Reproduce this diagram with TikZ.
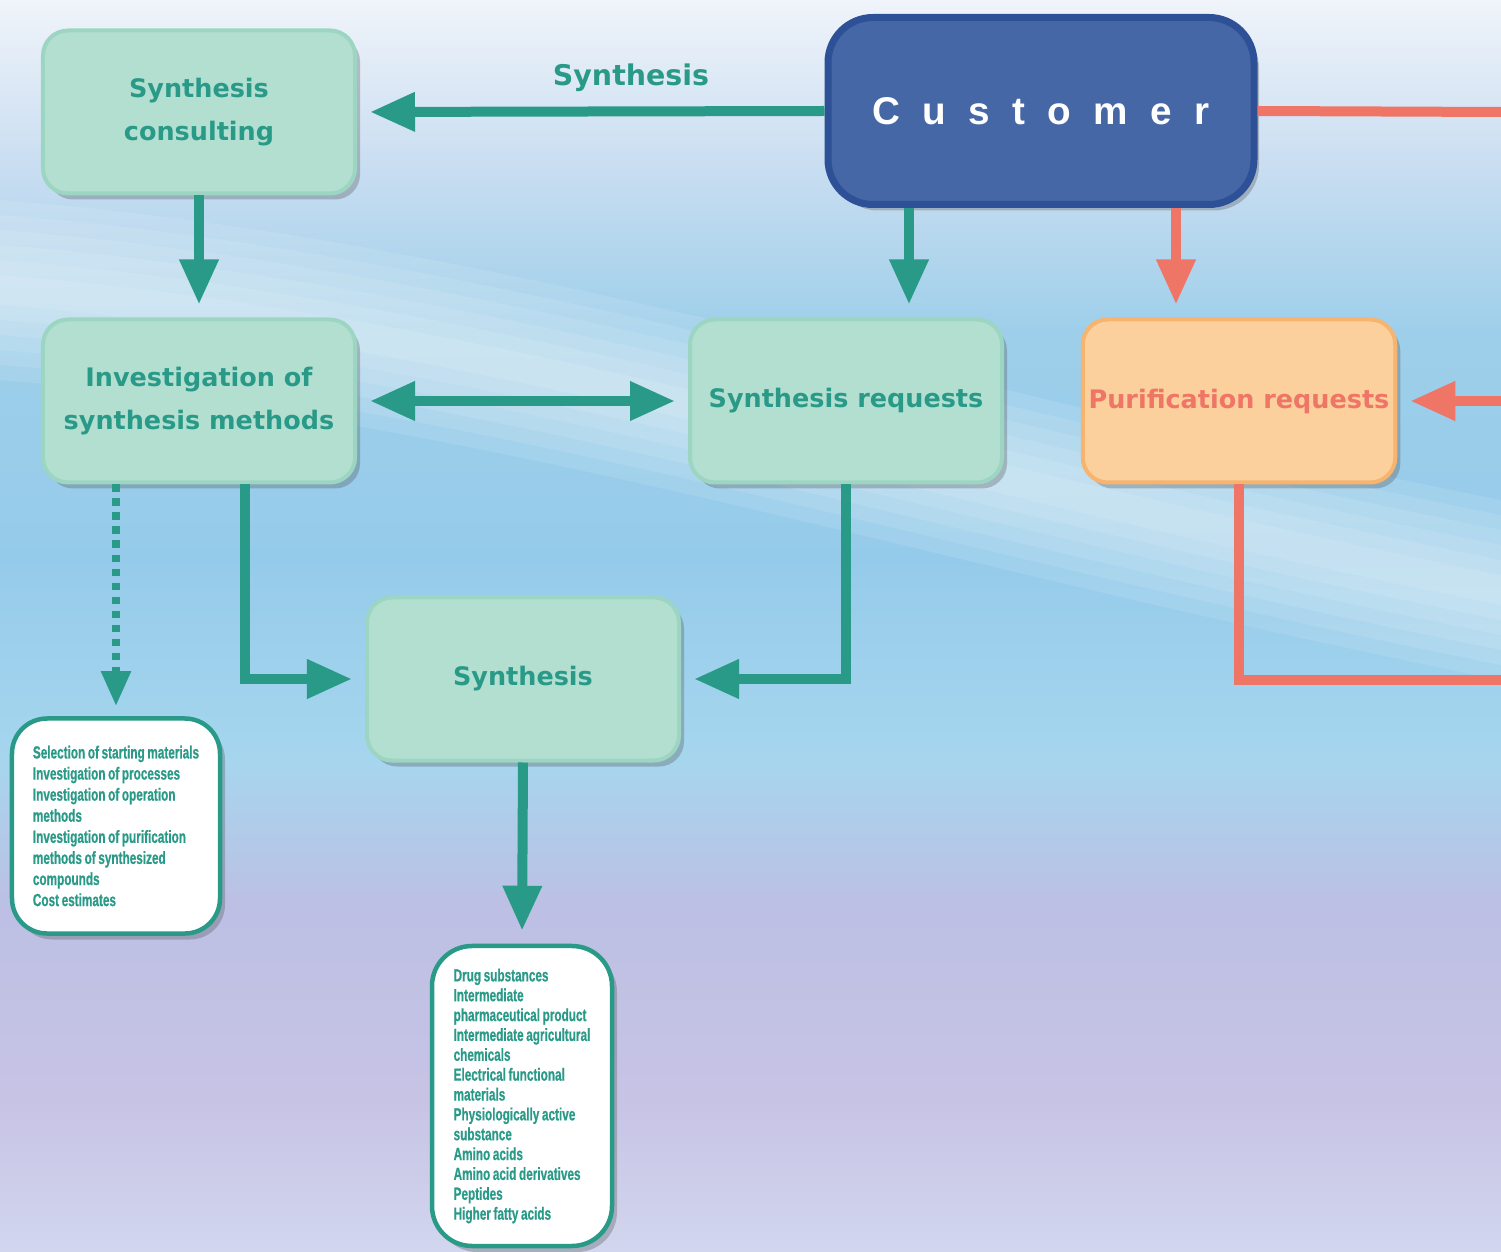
\documentclass[tikz,border=0pt]{standalone}
\usepackage{fontspec}
\setmainfont{DejaVu Sans}
\newfontfamily\narrowfont{Liberation Sans Bold}[FakeStretch=0.67, WordSpace=0.8, FakeBold=0.6]
\newfontfamily\custfont{Liberation Sans}[LetterSpace=58]
\usetikzlibrary{arrows.meta,shadows}

\definecolor{flowgreen}{HTML}{2A9A88}
\definecolor{boxgreen}{HTML}{B3DFD1}
\definecolor{boxedge}{HTML}{9CD6C2}
\definecolor{custblue}{HTML}{4567A5}
\definecolor{custedge}{HTML}{2E5096}
\definecolor{orangeline}{HTML}{EF7566}
\definecolor{orangefill}{HTML}{FCD09C}
\definecolor{orangeedge}{HTML}{F6B46E}
\definecolor{bga}{HTML}{F0F4FA}
\definecolor{bgb}{HTML}{C8DDF1}
\definecolor{bgc}{HTML}{9ECFEA}
\definecolor{bgd}{HTML}{95CBEA}
\definecolor{bge}{HTML}{A6D6EE}
\definecolor{bgf}{HTML}{BCC0E4}
\definecolor{bgg}{HTML}{C7C3E5}
\definecolor{bgh}{HTML}{D2D6EE}

\tikzset{
  boxshadow/.style={drop shadow={shadow xshift=1mm, shadow yshift=-1.2mm, opacity=.3, fill=black!70}},
  greenbox/.style={rounded corners=5mm, fill=boxgreen, draw=boxedge, line width=0.8mm,
    minimum width=62.4mm, minimum height=32.6mm, align=center, text=flowgreen,
    font=\fontsize{14.5}{24}\selectfont\bfseries, boxshadow},
  orangebox/.style={greenbox, fill=orangefill, draw=orangeedge, text=orangeline},
  custbox/.style={rounded corners=9mm, fill=custblue, draw=custedge, line width=1.4mm,
    minimum width=85.2mm, minimum height=37.4mm, text=white,
    font=\custfont\bfseries\fontsize{22}{26}\selectfont, boxshadow},
  listbox/.style={rounded corners=7mm, fill=white, draw=flowgreen, line width=0.9mm,
    align=left, text=flowgreen, boxshadow},
  flow/.style={draw=flowgreen, line width=2mm, -{Triangle[length=9mm,width=7.4mm]}, shorten >=2.6mm},
  twoflow/.style={flow, {Triangle[length=9mm,width=7.4mm]}-{Triangle[length=9mm,width=7.4mm]}, shorten <=2.6mm},
  dotflow/.style={draw=flowgreen, line width=1.6mm, dash pattern=on 1.5mm off 1.3mm,
    -{Triangle[length=7mm,width=5.6mm]}, shorten >=2mm},
  oline/.style={draw=orangeline, line width=2mm},
  oflow/.style={oline, -{Triangle[length=9mm,width=7.4mm]}, shorten >=2.6mm}
}

\begin{document}
\begin{tikzpicture}[x=0.2mm,y=-0.2mm]
  \useasboundingbox (0,0) rectangle (1501,1252);

  % background
  \foreach \ya/\yb/\ca/\cb in {0/170/bga/bgb, 170/330/bgb/bgc, 330/560/bgc/bgd, 560/760/bgd/bge,
      760/900/bge/bgf, 900/1100/bgf/bgg, 1100/1252/bgg/bgh}{
    \fill[top color=\ca, bottom color=\cb] (0,\ya-1) rectangle (1501,\yb+1);
  }
  \foreach \w in {90,75,60,45,30,15}{
    \fill[white, opacity=.1] (0,290-\w) .. controls (500,330-\w) and (900,470-\w) .. (1501,590-\w)
      -- (1501,590+\w) .. controls (900,470+\w) and (500,330+\w) .. (0,290+\w) -- cycle;
  }

  % boxes
  \node[custbox] (customer) at (1041,111) {Customer};
  \node[greenbox] (consult) at (199,112) {Synthesis\\consulting};
  \node[greenbox] (invest) at (199,401) {Investigation of\\synthesis methods};
  \node[greenbox] (synreq) at (846,401) {Synthesis requests};
  \node[orangebox] (purreq) at (1239,401) {Purification requests};
  \node[greenbox] (synth) at (523,679) {Synthesis};
  \node[listbox, minimum width=41.6mm, minimum height=43mm,
    font=\narrowfont\fontsize{10}{12}\selectfont] (select) at (116,826)
    {Selection of starting materials\\Investigation of processes\\Investigation of operation\\methods\\
     Investigation of purification\\methods of synthesized\\compounds\\Cost estimates};
  \node[listbox, rounded corners=8mm, minimum width=36mm, minimum height=60mm,
    font=\narrowfont\fontsize{10}{11.3}\selectfont] (products) at (522,1096)
    {Drug substances\\Intermediate\\pharmaceutical product\\Intermediate agricultural\\chemicals\\
     Electrical functional\\materials\\Physiologically active\\substance\\Amino acids\\
     Amino acid derivatives\\Peptides\\Higher fatty acids};

  % green connectors
  \draw[flow] (customer.west) -- (consult.east);
  \node[text=flowgreen, font=\fontsize{16.2}{20}\selectfont\bfseries] (synlabel) at (631,78) {Synthesis};
  \draw[flow] (consult.south) -- (invest.north);
  \coordinate (custL) at ([xshift=-26.4mm]customer.south);
  \draw[flow] (custL) -- (custL |- synreq.north);
  \draw[twoflow] (invest.east) -- (synreq.west);
  \coordinate (investR) at ([xshift=9.2mm]invest.south);
  \draw[flow] (investR) |- (synth.west);
  \draw[flow] (synreq.south) |- (synth.east);
  \coordinate (investL) at (select.north |- invest.south);
  \draw[dotflow] (investL) -- (select.north);
  \draw[flow] (synth.south) -- (products.north);

  % orange connectors
  \coordinate (edgeA) at (1501,112);
  \coordinate (edgeB) at (1501,401);
  \coordinate (edgeC) at (1501,680);
  \draw[oline] (customer.east) -- (edgeA);
  \coordinate (custR) at ([xshift=27mm]customer.south);
  \draw[oflow] (custR) -- (custR |- purreq.north);
  \draw[oflow] (edgeB) -- (purreq.east);
  \draw[oline] (purreq.south) |- (edgeC);
\end{tikzpicture}
\end{document}
